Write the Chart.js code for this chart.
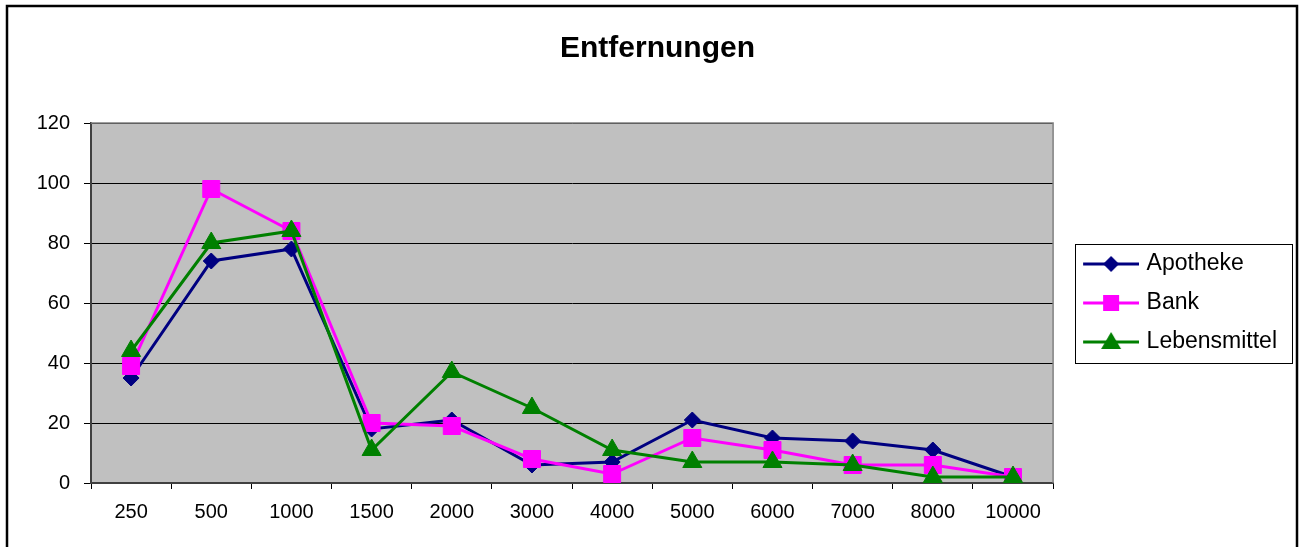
<!DOCTYPE html>
<html>
<head>
<meta charset="utf-8">
<script src="https://cdn.jsdelivr.net/npm/chart.js@4/dist/chart.umd.min.js"></script>
<style>
  html, body { margin: 0; padding: 0; background: #fff; }
  canvas { display: block; }
</style>
</head>
<body>
<canvas id="entf_chart" width="1300" height="547"></canvas>
<script>
// Entfernungen - values
const distances = ["250", "500", "1000", "1500", "2000", "3000", "4000", "5000", "6000", "7000", "8000", "10000"];
const apotheke = [35, 74, 78, 18, 21, 6, 7, 21, 15, 14, 11, 2];
const bank = [39, 98, 84, 20, 19, 8, 3, 15, 11, 6, 6, 2];
const lebensmittel = [44, 80, 84, 11, 37, 25, 11, 7, 7, 6, 2, 2];
const y_ticks = [0, 20, 40, 60, 80, 100, 120];

const font_name = "'Liberation Sans', Arial, sans-serif";
const legend_size = 23;
const legend_pad = 16;
const legend_box = 66;

// little line + marker picture for the legend entries
function legendIcon(color, shape) {
  const c = document.createElement("canvas");
  c.width = 74;
  c.height = 26;
  const g = c.getContext("2d");
  g.strokeStyle = color;
  g.fillStyle = color;
  g.lineWidth = 3;
  g.beginPath();
  g.moveTo(18, 13);
  g.lineTo(74, 13);
  g.stroke();
  const mx = 46, my = 13;
  g.beginPath();
  if (shape === "diamond") {
    g.moveTo(mx, my - 8); g.lineTo(mx + 8, my); g.lineTo(mx, my + 8); g.lineTo(mx - 8, my);
  } else if (shape === "square") {
    g.rect(mx - 8, my - 8, 16, 16);
  } else {
    g.moveTo(mx, my - 10); g.lineTo(mx + 10, my + 7); g.lineTo(mx - 10, my + 7);
  }
  g.closePath();
  g.fill();
  return c;
}

const series = [
  { label: "Apotheke", data: apotheke, color: "#000080", style: "rectRot", r: 8, icon: legendIcon("#000080", "diamond"), order: 2 },
  { label: "Bank", data: bank, color: "#ff00ff", style: "rect", r: 12, icon: legendIcon("#ff00ff", "square"), order: 1 },
  { label: "Lebensmittel", data: lebensmittel, color: "#008000", style: "triangle", r: 11, icon: legendIcon("#008000", "triangle"), order: 0 },
];

// width of the legend so the plot ends where it does in the picture
const mctx = document.createElement("canvas").getContext("2d");
mctx.font = legend_size + "px " + font_name;
let max_text = 0;
series.forEach(s => { max_text = Math.max(max_text, mctx.measureText(s.label).width); });
const legend_width = legend_pad + legend_box + legend_size / 2 + max_text;
const pad_right = Math.round(1300 - 1063 - legend_width);

const frame_plugin = {
  id: "frame_plugin",
  beforeDraw(chart) {
    const ctx = chart.ctx;
    const a = chart.chartArea;
    ctx.save();
    ctx.fillStyle = "#ffffff";
    ctx.fillRect(0, 0, chart.width, chart.height);
    ctx.strokeStyle = "#000000";
    ctx.lineWidth = 2.5;
    ctx.strokeRect(7, 6, 1290, 580);
    ctx.fillStyle = "#c0c0c0";
    ctx.fillRect(a.left, a.top, a.right - a.left, a.bottom - a.top);
    ctx.restore();
  },
  beforeDatasetsDraw(chart) {
    const ctx = chart.ctx;
    const a = chart.chartArea;
    ctx.save();
    ctx.strokeStyle = "#808080";
    ctx.lineWidth = 1.5;
    ctx.beginPath();
    ctx.moveTo(a.left, a.top);
    ctx.lineTo(a.right, a.top);
    ctx.lineTo(a.right, a.bottom);
    ctx.stroke();
    ctx.restore();
  },
  afterDraw(chart) {
    const hb = chart.legend.legendHitBoxes;
    if (!hb || !hb.length) return;
    const ctx = chart.ctx;
    const x0 = hb[0].left + 6;
    const y0 = hb[0].top - 9;
    const last = hb[hb.length - 1];
    const y1 = last.top + last.height + 9;
    ctx.save();
    ctx.strokeStyle = "#000000";
    ctx.lineWidth = 1;
    ctx.strokeRect(Math.round(x0) + 0.5, Math.round(y0) + 0.5, 217, Math.round(y1 - y0));
    ctx.restore();
  }
};

const entf_datasets = series.map(s => ({
  label: s.label,
  data: s.data,
  borderColor: s.color,
  backgroundColor: s.color,
  borderWidth: 3,
  pointStyle: s.style,
  pointRadius: s.r,
  pointHoverRadius: s.r,
  pointBackgroundColor: s.color,
  pointBorderColor: s.color,
  pointBorderWidth: 1,
  tension: 0,
  order: s.order,
}));

const entf_chart = new Chart(document.getElementById("entf_chart"), {
  type: "line",
  data: {
    labels: distances,
    datasets: entf_datasets,
  },
  options: {
    responsive: false,
    animation: false,
    layout: {
      padding: { left: 28, right: pad_right, top: 10, bottom: 0 },
    },
    plugins: {
      title: {
        display: true,
        text: "Entfernungen",
        color: "#000000",
        font: { family: font_name, size: 30, weight: "bold", lineHeight: 1.2 },
        padding: { top: 21, bottom: 56 },
      },
      legend: {
        position: "right",
        fullSize: false,
        labels: {
          usePointStyle: true,
          pointStyleWidth: legend_box,
          padding: legend_pad,
          color: "#000000",
          font: { family: font_name, size: legend_size },
          generateLabels: () => series.map((s, i) => ({
            text: s.label,
            pointStyle: s.icon,
            fillStyle: s.color,
            strokeStyle: s.color,
            lineWidth: 0,
            hidden: false,
            datasetIndex: i,
            fontColor: "#000000",
          })),
        },
      },
      tooltip: { enabled: false },
    },
    scales: {
      x: {
        offset: true,
        grid: {
          offset: true,
          drawOnChartArea: false,
          drawTicks: true,
          tickLength: 6,
          color: "#000000",
        },
        border: { color: "#404040", width: 2 },
        ticks: {
          color: "#000000",
          font: { family: font_name, size: 20 },
          padding: 11,
          maxRotation: 0,
          autoSkip: false,
        },
        afterFit(scale) { scale.height = 64; },
      },
      y: {
        min: 0,
        max: 120,
        afterBuildTicks(scale) { scale.ticks = y_ticks.map(v => ({ value: v })); },
        grid: {
          color: "#000000",
          lineWidth: 1,
          tickLength: 7,
        },
        border: { color: "#404040", width: 2 },
        ticks: {
          color: "#000000",
          font: { family: font_name, size: 20 },
          padding: 14,
        },
        afterFit(scale) { scale.width = 63; },
      },
    },
  },
  plugins: [frame_plugin],
});
</script>
</body>
</html>
